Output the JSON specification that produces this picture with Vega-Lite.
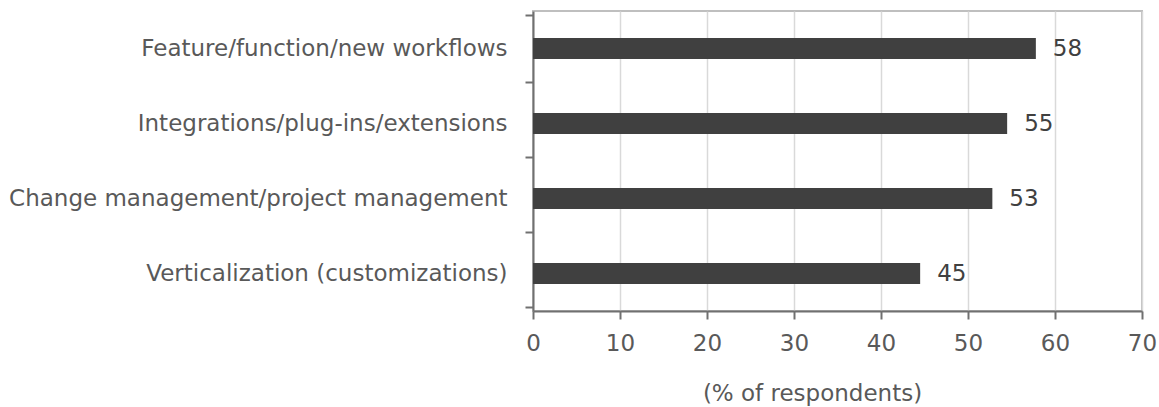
{
  "$schema": "https://vega.github.io/schema/vega-lite/v6.json",
  "width": 609,
  "height": 300,
  "autosize": "none",
  "padding": {"left": 533, "top": 11, "right": 17, "bottom": 96},
  "config": {
    "font": "DejaVu Sans",
    "view": {"stroke": "#bfbfbf", "strokeWidth": 2}
  },
  "data": {
    "values": [
      {"category": "Feature/function/new workflows", "value": 57.8},
      {"category": "Integrations/plug-ins/extensions", "value": 54.5},
      {"category": "Change management/project management", "value": 52.8},
      {"category": "Verticalization (customizations)", "value": 44.5}
    ]
  },
  "encoding": {
    "y": {
      "field": "category",
      "type": "nominal",
      "sort": null,
      "title": null,
      "axis": {
        "tickBand": "extent",
        "ticks": true,
        "tickSize": 8,
        "tickColor": "#707070",
        "tickWidth": 2,
        "domainColor": "#707070",
        "domainWidth": 2,
        "labelFontSize": 23,
        "labelColor": "#595959",
        "labelPadding": 18,
        "labelLimit": 600,
        "grid": false
      }
    },
    "x": {
      "field": "value",
      "type": "quantitative",
      "scale": {"domain": [0, 70], "nice": false},
      "title": "(% of respondents)",
      "axis": {
        "values": [0, 10, 20, 30, 40, 50, 60, 70],
        "labelFlush": false,
        "tickSize": 8,
        "tickColor": "#707070",
        "tickWidth": 2,
        "domainColor": "#707070",
        "domainWidth": 2,
        "gridColor": "#d9d9d9",
        "gridWidth": 1.5,
        "labelFontSize": 23,
        "labelColor": "#595959",
        "labelPadding": 13,
        "titleFontSize": 23,
        "titleFontWeight": "normal",
        "titleColor": "#595959",
        "titlePadding": 27,
        "titleX": 279,
        "titleAlign": "center"
      }
    }
  },
  "layer": [
    {"mark": {"type": "bar", "color": "#404040", "size": 21}},
    {
      "mark": {"type": "text", "align": "left", "dx": 17, "fontSize": 23, "color": "#404040"},
      "encoding": {"text": {"field": "value", "type": "quantitative", "format": ".0f"}}
    }
  ]
}
